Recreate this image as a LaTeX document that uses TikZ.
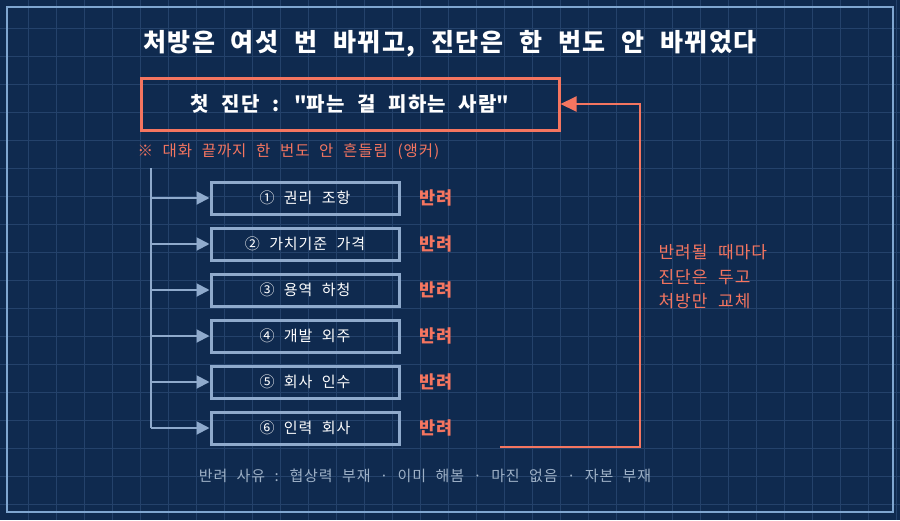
\documentclass[tikz,border=0pt]{standalone}
\usepackage{fontspec}
\setmainfont{Noto Sans CJK KR}[LetterSpace=6,WordSpace=2.2]
\usetikzlibrary{arrows.meta}
\definecolor{bgblue}{HTML}{0F2A4F}
\definecolor{gridblue}{HTML}{24426B}
\definecolor{frameblue}{HTML}{7FA6D0}
\definecolor{accent}{HTML}{F47560}
\definecolor{steel}{HTML}{8FAACC}
\definecolor{softgray}{HTML}{9DB0C6}
\tikzset{
  option/.style={draw=steel, line width=3pt, minimum width=188pt, minimum height=32pt,
    text=white, font=\fontsize{15}{17}\selectfont},
  verdict/.style={text=accent, font=\fontsize{17.5}{19}\selectfont\bfseries},
  branch/.style={steel, line width=2pt, -{Triangle[length=13pt,width=13pt]}}
}
\begin{document}
\begin{tikzpicture}[x=1pt,y=-1pt]
		% background and grid
		\fill[bgblue] (0,0) rectangle (900,520);
		\useasboundingbox (0,0) rectangle (900,520);
		\foreach \g in {28,56,...,896} {
				\draw[gridblue, line width=1pt] (\g,0) -- (\g,520);
			}
		\foreach \g in {28,56,...,504} {
				\draw[gridblue, line width=1pt] (0,\g) -- (900,\g);
			}
		\draw[frameblue, line width=1.5pt] (7,7) rectangle (893,512);

		% title
		\node[text=white, font=\fontsize{25}{28}\selectfont\bfseries] (title) at (450,44) {처방은 여섯 번 바뀌고, 진단은 한 번도 안 바뀌었다};

		% diagnosis
		\node[draw=accent, line width=3pt, minimum width=418pt, minimum height=52pt, text=white,
			font=\fontsize{20}{22}\selectfont\bfseries] (diag) at (350,104) {첫 진단 : \textquotedbl 파는 걸 피하는 사람\textquotedbl};
		\node[anchor=west, text=accent, font=\fontsize{15.5}{18}\selectfont] (anchor) at (134,152) {※ 대화 끝까지 한 번도 안 흔들림 (앵커)};

		% options
		\coordinate (top) at (151,168);
		\coordinate (bot) at (151,428);
		\draw[steel, line width=2pt] (top) -- (bot);
		\foreach \i/\t/\y in {1/① 권리 조항/198, 2/② 가치기준 가격/244, 3/③ 용역 하청/290,
				4/④ 개발 외주/336, 5/⑤ 회사 인수/382, 6/⑥ 인력 회사/428} {
				\node[option] (opt\i) at (305,\y) {\t};
				\node[verdict] (rej\i) at (436,\y) {반려};
				\coordinate (b\i) at (151,\y);
				\draw[branch] (b\i) -- (opt\i.west);
			}

		% feedback loop
		\coordinate (loopa) at (500,447);
		\coordinate (loopb) at (640,447);
		\coordinate (loopc) at (640,104);
		\draw[accent, line width=2pt, -{Triangle[length=16pt,width=15pt]}] (loopa) -- (loopb) -- (loopc) -- (diag.east);
		\node[anchor=west, text=accent, align=left, font=\fontsize{17}{24.5}\selectfont] (note) at (655,277) {반려될 때마다\\진단은 두고\\처방만 교체};

		% reasons
		\node[text=softgray, font=\fontsize{15}{16}\selectfont] (reason) at (425,476) {반려 사유 : 협상력 부재 · 이미 해봄 · 마진 없음 · 자본 부재};
	\end{tikzpicture}
\end{document}
